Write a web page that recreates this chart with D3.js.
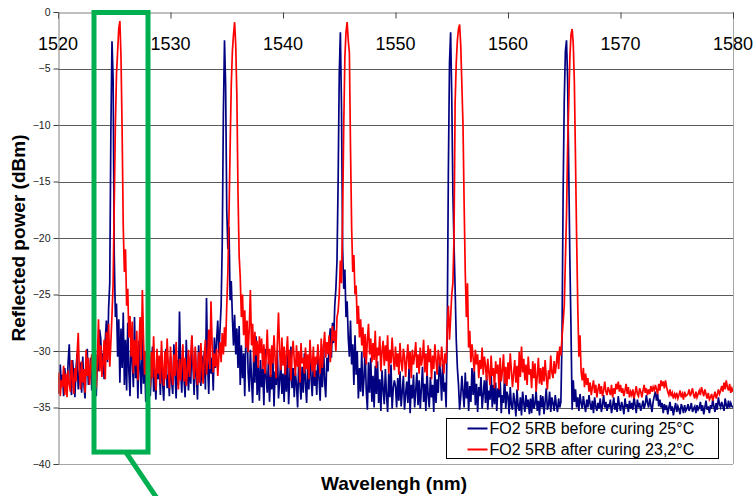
<!DOCTYPE html>
<html>
<head>
<meta charset="utf-8">
<script src="https://cdn.jsdelivr.net/npm/d3@7/dist/d3.min.js"></script>
<style>
  html, body { margin: 0; padding: 0; background: #fff; }
  svg { display: block; font-family: Arial, "Liberation Sans", sans-serif; }
</style>
</head>
<body>
<svg id="chart" width="756" height="496"></svg>
<script>
// Spectrum sampling grid (nm)
const waveStart = 1520;
const waveStep = 0.1;

// Axis ticks
const xTicks = [1520, 1530, 1540, 1550, 1560, 1570, 1580];
const yTicks = [0, -5, -10, -15, -20, -25, -30, -35, -40];

// Series labels
const seriesNames = ["FO2 5RB before curing 25°C", "FO2 5RB after curing 23,2°C"];

// Reflected power (dBm), FO2 5RB before curing at 25°C, one row per nm
const powerBefore = [
-32.5,-33.8,-31.2,-33.0,-32.1,-34.0,-31.5,-32.8,-33.5,-31.0,
-29.4,-32.6,-33.9,-30.8,-32.2,-34.1,-31.6,-30.2,-33.4,-32.0,
-31.0,-33.7,-30.5,-32.9,-34.2,-31.3,-29.8,-33.0,-32.4,-30.6,
-33.5,-31.1,-29.2,-32.7,-34.0,-30.3,-31.8,-28.1,-28.9,-31.4,
-30.2,-32.5,-29.0,-27.3,-31.0,-26.2,-24.0,-10.5,-2.6,-6.0,
-21.5,-27.0,-25.8,-30.5,-27.2,-32.8,-28.0,-31.5,-26.6,-33.0,
-29.0,-33.5,-27.5,-31.8,-34.0,-28.3,-30.7,-33.2,-27.0,-32.4,
-30.0,-34.2,-29.1,-31.5,-33.8,-28.5,-32.9,-30.3,-34.5,-31.2,
-33.0,-30.4,-34.0,-31.7,-29.6,-33.6,-32.0,-34.3,-30.9,-32.5,
-31.4,-33.9,-30.1,-32.8,-34.4,-31.0,-29.8,-33.3,-32.1,-34.0,
-30.5,-32.7,-33.8,-29.4,-31.9,-34.2,-30.8,-33.0,-26.5,-31.6,
-33.7,-30.2,-32.4,-34.1,-29.0,-31.8,-33.5,-30.6,-32.9,-28.7,
-31.3,-33.9,-30.0,-32.2,-34.3,-29.5,-31.7,-33.1,-30.4,-32.6,
-30.1,-33.4,-25.3,-31.2,-33.8,-29.3,-32.0,-30.6,-33.5,-28.8,
-31.5,-29.0,-27.3,-30.2,-28.1,-26.0,-20.5,-9.0,-2.5,-6.5,
-17.5,-21.0,-19.0,-25.5,-23.8,-27.0,-29.5,-26.8,-30.3,-28.0,
-31.5,-27.8,-33.0,-29.5,-32.4,-30.2,-34.0,-28.6,-27.4,-31.9,
-33.6,-29.9,-32.5,-34.6,-30.4,-32.8,-28.7,-33.9,-31.3,-34.4,
-30.8,-33.2,-31.6,-34.8,-29.8,-32.3,-33.7,-31.0,-34.5,-32.1,
-33.4,-30.6,-34.9,-31.8,-33.0,-29.9,-34.2,-32.6,-30.9,-33.8,
-32.0,-34.5,-31.2,-33.6,-30.3,-34.7,-32.4,-29.6,-33.3,-31.5,
-34.1,-31.9,-33.0,-35.0,-30.7,-32.8,-34.3,-31.4,-33.7,-30.2,
-32.9,-34.6,-31.1,-33.4,-29.7,-32.5,-34.0,-30.8,-33.1,-31.7,
-33.9,-30.5,-32.3,-34.4,-31.0,-33.2,-29.4,-32.7,-34.1,-30.6,
-31.8,-29.5,-28.0,-30.6,-27.5,-29.3,-26.0,-24.5,-22.0,-15.0,
-5.5,-1.8,-8.5,-21.0,-24.5,-22.8,-27.0,-25.6,-28.8,-30.5,
-27.3,-31.2,-29.4,-33.0,-28.6,-32.1,-30.0,-34.2,-31.5,-33.6,
-30.1,-34.0,-32.4,-29.8,-33.5,-35.2,-31.0,-33.7,-30.6,-34.5,
-32.2,-35.0,-31.3,-33.8,-30.9,-34.6,-32.5,-35.3,-31.7,-33.4,
-34.7,-31.6,-33.9,-35.4,-32.0,-34.1,-31.2,-35.1,-33.3,-32.6,
-33.1,-35.0,-32.4,-34.4,-31.8,-34.9,-33.6,-32.2,-35.2,-33.8,
-32.7,-34.6,-31.5,-35.5,-33.0,-34.2,-32.1,-35.0,-33.5,-31.9,
-34.8,-32.6,-35.1,-33.3,-31.4,-34.5,-32.9,-35.3,-31.7,-33.9,
-35.0,-32.3,-34.1,-33.0,-35.4,-31.8,-34.6,-32.5,-33.7,-30.9,
-32.0,-34.4,-31.1,-33.6,-32.8,-35.0,-28.0,-14.0,-4.5,-1.8,
-7.5,-16.0,-20.5,-24.5,-29.0,-31.5,-33.0,-35.2,-34.0,-32.2,
-33.6,-35.0,-31.9,-34.2,-32.7,-35.3,-33.1,-34.5,-31.5,-33.9,
-31.7,-34.8,-32.9,-35.4,-33.2,-34.0,-32.3,-35.1,-33.8,-32.6,
-34.6,-32.1,-35.2,-33.5,-34.3,-31.9,-35.0,-33.0,-34.7,-32.8,
-35.3,-33.3,-34.1,-32.4,-35.5,-33.9,-34.6,-32.0,-35.1,-33.6,
-34.0,-35.6,-33.2,-34.8,-35.2,-33.7,-34.5,-35.8,-33.4,-34.9,
-35.3,-34.1,-35.7,-33.6,-34.6,-35.4,-33.9,-35.0,-34.3,-35.6,
-34.2,-35.5,-33.8,-35.1,-34.7,-33.5,-35.3,-34.4,-35.7,-33.9,
-35.0,-34.0,-35.6,-34.5,-33.3,-35.2,-34.8,-33.6,-35.4,-34.1,
-34.6,-35.3,-33.9,-34.8,-35.4,-34.2,-35.0,-34.5,-29.0,-16.0,
-7.8,-3.5,-2.5,-6.0,-14.0,-22.0,-28.0,-35.2,-32.6,-34.5,
-33.4,-35.0,-34.1,-35.3,-33.8,-34.6,-35.1,-34.0,-34.8,-35.4,
-34.3,-35.0,-33.9,-34.7,-35.2,-34.4,-35.5,-34.1,-34.9,-35.3,
-34.6,-35.1,-34.2,-35.4,-34.8,-33.9,-35.0,-34.5,-35.3,-34.7,
-35.0,-34.3,-35.5,-34.9,-34.1,-35.2,-34.6,-35.4,-34.0,-34.8,
-35.3,-34.5,-34.9,-35.6,-34.2,-35.0,-34.7,-35.4,-34.4,-35.1,
-34.6,-35.2,-34.0,-34.8,-35.5,-34.3,-35.0,-34.6,-35.3,-34.9,
-34.4,-35.1,-34.7,-33.9,-34.6,-35.0,-34.2,-34.8,-35.4,-34.5,
-34.0,-33.6,-34.4,-33.8,-34.9,-34.3,-35.0,-34.6,-35.5,-34.7,
-35.2,-34.8,-35.6,-35.0,-34.5,-35.3,-34.9,-35.7,-35.1,-34.6,
-35.4,-34.9,-35.2,-35.6,-34.7,-35.0,-35.5,-34.8,-35.3,-35.1,
-34.7,-35.3,-35.0,-34.6,-35.4,-35.1,-34.9,-35.5,-34.8,-35.2,
-35.0,-34.5,-35.3,-34.8,-35.6,-35.0,-34.4,-35.2,-34.9,-35.5,
-34.8,-35.1,-34.3,-34.9,-35.4,-34.6,-35.2,-34.1,-34.7,-35.0,
-34.5,-34.9,-35.3,-34.2,-34.8,-35.1,-34.4,-35.0,-34.6,-34.9,
-35.0
];

// Reflected power (dBm), FO2 5RB after curing at 23.2°C, one row per nm
const powerAfter = [
-33.8,-31.9,-34.0,-32.6,-33.2,-31.3,-33.9,-32.0,-34.1,-31.7,
-32.9,-33.6,-30.8,-32.4,-33.8,-31.5,-32.7,-30.2,-28.4,-31.9,
-33.4,-30.9,-32.8,-31.6,-33.7,-29.9,-32.2,-30.6,-33.0,-31.4,
-30.3,-32.9,-31.1,-29.6,-33.3,-30.7,-27.2,-31.8,-29.5,-32.3,
-31.2,-29.0,-32.5,-28.3,-30.8,-27.6,-31.4,-29.2,-26.8,-24.0,
-17.0,-10.0,-5.5,-3.5,-1.5,-0.8,-4.0,-10.5,-19.0,-23.0,
-21.0,-26.0,-24.5,-28.8,-26.9,-30.5,-27.4,-32.0,-29.0,-31.3,
-28.2,-32.6,-29.5,-27.0,-30.8,-24.6,-28.9,-32.1,-30.0,-33.0,
-31.5,-29.3,-33.2,-30.1,-32.4,-28.7,-31.8,-33.5,-29.8,-32.0,
-30.4,-32.9,-29.1,-31.6,-33.1,-30.0,-32.5,-28.9,-31.2,-33.3,
-29.6,-31.9,-33.0,-30.3,-32.2,-29.2,-31.5,-33.4,-30.7,-32.6,
-31.0,-29.4,-32.7,-30.6,-33.1,-31.8,-29.9,-32.3,-30.4,-28.6,
-30.9,-32.5,-29.6,-31.7,-33.0,-30.1,-32.8,-29.3,-31.4,-32.9,
-30.5,-29.0,-32.1,-30.8,-28.1,-31.6,-25.6,-29.4,-31.9,-30.2,
-31.4,-29.8,-32.2,-30.5,-29.2,-31.0,-28.4,-30.3,-27.9,-29.6,
-26.0,-23.0,-18.0,-12.0,-6.5,-3.5,-2.0,-0.9,-3.0,-7.5,
-16.0,-21.5,-23.5,-27.0,-25.0,-28.6,-26.4,-29.7,-27.3,-30.1,
-28.0,-24.6,-29.5,-27.6,-31.0,-28.3,-30.4,-29.1,-31.5,-28.7,
-30.2,-28.9,-31.6,-29.4,-32.0,-30.6,-28.1,-31.2,-29.8,-32.3,
-29.5,-31.1,-28.6,-30.7,-32.4,-29.2,-26.6,-30.0,-31.7,-28.8,
-31.3,-29.6,-32.1,-30.2,-28.7,-31.5,-29.9,-32.6,-30.4,-29.1,
-30.8,-32.2,-29.5,-31.4,-30.0,-32.8,-29.3,-31.1,-30.6,-32.0,
-29.7,-31.6,-30.3,-32.5,-29.0,-30.9,-31.8,-29.6,-32.3,-30.5,
-31.2,-29.4,-30.8,-32.0,-28.9,-31.5,-29.8,-28.3,-30.6,-29.2,
-30.3,-28.6,-31.0,-29.5,-27.8,-29.1,-28.2,-30.0,-27.0,-26.5,
-25.0,-22.0,-24.0,-18.0,-10.0,-4.0,-1.8,-0.9,-2.5,-3.6,
-12.0,-19.0,-23.0,-21.5,-25.0,-24.2,-27.6,-26.0,-28.8,-27.2,
-29.5,-27.9,-30.6,-28.5,-31.2,-29.0,-27.6,-30.3,-28.9,-31.0,
-29.3,-30.8,-28.2,-31.5,-29.7,-30.4,-28.7,-31.8,-30.0,-29.1,
-31.3,-29.5,-30.9,-28.6,-32.0,-29.9,-31.1,-28.8,-30.6,-31.7,
-29.6,-31.4,-30.2,-32.1,-29.3,-30.9,-31.8,-29.8,-30.5,-32.3,
-30.7,-29.4,-31.6,-30.1,-32.4,-29.9,-31.2,-30.4,-29.2,-31.5,
-30.3,-32.0,-29.7,-31.3,-30.6,-29.0,-31.9,-30.2,-32.2,-29.5,
-31.0,-29.8,-32.5,-30.4,-31.6,-29.4,-30.8,-32.1,-29.9,-30.7,
-31.4,-29.6,-30.8,-32.0,-30.2,-31.1,-28.0,-26.0,-29.0,-27.0,
-25.0,-24.0,-20.0,-8.0,-4.5,-2.5,-1.5,-1.1,-3.0,-6.5,
-10.0,-17.0,-23.0,-27.0,-24.0,-29.7,-28.2,-31.0,-29.4,-30.6,
-31.8,-29.9,-31.2,-30.3,-32.4,-30.8,-31.6,-29.7,-32.1,-30.5,
-31.3,-32.6,-30.7,-31.9,-33.0,-30.4,-32.2,-31.5,-33.3,-30.9,
-32.0,-31.2,-33.4,-30.6,-32.7,-31.8,-30.3,-32.9,-31.4,-33.1,
-31.0,-32.5,-30.2,-31.7,-33.2,-32.0,-30.8,-32.8,-31.3,-33.5,
-30.1,-32.3,-29.6,-31.9,-30.7,-32.6,-31.2,-33.0,-30.5,-32.1,
-31.6,-33.3,-30.9,-32.4,-31.1,-33.6,-32.2,-30.6,-32.9,-31.5,
-33.0,-31.4,-32.7,-30.8,-32.3,-33.4,-31.7,-32.5,-30.4,-31.9,
-32.4,-30.9,-32.0,-31.1,-30.0,-31.6,-29.6,-30.4,-28.8,-27.5,
-26.0,-22.0,-18.0,-12.0,-8.0,-4.0,-2.0,-1.5,-2.8,-6.3,
-13.0,-20.0,-26.0,-30.5,-28.6,-31.8,-32.6,-31.5,-33.2,-32.0,
-33.0,-32.4,-33.6,-32.8,-33.9,-33.2,-32.6,-33.7,-33.0,-34.1,
-33.4,-32.9,-33.8,-33.1,-34.0,-33.5,-32.7,-33.6,-33.9,-33.2,
-33.5,-33.9,-33.0,-34.1,-33.3,-33.8,-32.9,-33.4,-32.7,-33.6,
-33.0,-33.7,-33.3,-34.0,-33.5,-32.9,-33.8,-33.2,-34.1,-33.6,
-33.9,-33.4,-34.2,-33.7,-33.1,-33.8,-34.0,-33.3,-33.6,-34.1,
-33.5,-33.0,-33.7,-33.3,-33.9,-33.4,-33.8,-33.1,-33.6,-33.2,
-33.5,-33.0,-33.4,-33.8,-32.9,-33.5,-32.6,-33.1,-32.7,-33.3,
-32.6,-33.2,-33.6,-33.9,-33.4,-34.0,-33.7,-34.2,-33.8,-34.1,
-33.7,-34.2,-33.9,-33.5,-34.1,-33.8,-34.3,-33.6,-34.0,-33.9,
-33.8,-33.4,-34.0,-33.7,-33.3,-33.9,-34.2,-33.6,-34.1,-33.8,
-33.5,-33.9,-33.2,-33.6,-34.0,-33.4,-33.8,-34.2,-33.7,-34.3,
-34.1,-33.8,-34.4,-34.0,-33.6,-34.2,-33.9,-33.4,-33.8,-33.5,
-33.1,-33.6,-32.8,-33.4,-32.6,-33.2,-33.5,-32.9,-33.7,-33.3,
-33.6
];

const seriesColors = ["#000080", "#ff0000"];

const svg = d3.select("#chart");
const margin = { left: 58, right: 23, top: 12, bottom: 32 };
const W = 756, H = 496;
const x = d3.scaleLinear().domain([1520, 1580]).range([margin.left, W - margin.right]);
const y = d3.scaleLinear().domain([-40, 0]).range([H - margin.bottom, margin.top]);

svg.append("rect").attr("width", W).attr("height", H).attr("fill", "#fff");

// Horizontal gridlines
svg.append("g")
  .selectAll("line")
  .data(yTicks.filter(d => d !== 0 && d !== -40))
  .join("line")
  .attr("x1", x(1520)).attr("x2", x(1580))
  .attr("y1", d => Math.round(y(d)) + 0.5).attr("y2", d => Math.round(y(d)) + 0.5)
  .attr("stroke", "#5a5a5a").attr("stroke-width", 1);

// Plot frame: right and bottom edges
svg.append("line")
  .attr("x1", x(1580) + 0.5).attr("x2", x(1580) + 0.5)
  .attr("y1", y(0)).attr("y2", y(-40))
  .attr("stroke", "#a6a6a6");
svg.append("line")
  .attr("x1", x(1520)).attr("x2", x(1580))
  .attr("y1", Math.round(y(-40)) + 0.5).attr("y2", Math.round(y(-40)) + 0.5)
  .attr("stroke", "#a6a6a6");

// Spectra
svg.append("clipPath").attr("id", "plotClip")
  .append("rect")
  .attr("x", x(1520)).attr("y", y(0))
  .attr("width", x(1580) - x(1520)).attr("height", y(-40) - y(0));

const line = d3.line()
  .x((d, i) => x(waveStart + i * waveStep))
  .y(d => y(d));

const traces = svg.append("g").attr("clip-path", "url(#plotClip)");
[powerBefore, powerAfter].forEach((series, k) => {
  traces.append("path")
    .datum(series)
    .attr("d", line)
    .attr("fill", "none")
    .attr("stroke", seriesColors[k])
    .attr("stroke-width", 1.7)
    .attr("stroke-linejoin", "miter");
});

// Wavelength axis along the top edge, labels drawn inside the plot
const xAxis = svg.append("g")
  .attr("transform", `translate(0,${Math.round(y(0)) + 0.5})`)
  .call(d3.axisBottom(x).tickValues(xTicks).tickSize(6).tickFormat(""));
xAxis.select(".domain").attr("stroke", "#808080");
xAxis.selectAll(".tick line").attr("stroke", "#404040");

svg.append("g")
  .selectAll("text")
  .data(xTicks)
  .join("text")
  .attr("x", d => x(d))
  .attr("y", 50)
  .attr("text-anchor", "middle")
  .attr("font-size", 18)
  .attr("fill", "#000")
  .text(d => d);

// Power axis on the left
const yAxis = svg.append("g")
  .attr("transform", `translate(${x(1520) + 0.5},0)`)
  .call(d3.axisLeft(y).tickValues(yTicks).tickSize(5).tickPadding(3));
yAxis.select(".domain").attr("stroke", "#808080");
yAxis.selectAll(".tick line").attr("stroke", "#404040");
yAxis.selectAll(".tick text")
  .attr("font-size", 10.5)
  .attr("font-family", "Arial, 'Liberation Sans', sans-serif")
  .attr("fill", "#222");

// Axis titles
svg.append("text")
  .attr("transform", `translate(25,${(y(0) + y(-40)) / 2}) rotate(-90)`)
  .attr("text-anchor", "middle")
  .attr("font-size", 19)
  .attr("font-weight", "bold")
  .text("Reflected power (dBm)");

svg.append("text")
  .attr("x", 394)
  .attr("y", 490)
  .attr("text-anchor", "middle")
  .attr("font-size", 19)
  .attr("font-weight", "bold")
  .text("Wavelengh (nm)");

// Highlight frame around the first grating and its pointer
const hl = svg.append("g").attr("stroke", "#00b050").attr("fill", "none").attr("stroke-width", 5);
hl.append("rect")
  .attr("x", x(1523.2)).attr("y", y(0) + 0.5)
  .attr("width", x(1528.0) - x(1523.2)).attr("height", y(-38.9) - y(0));
hl.append("line")
  .attr("x1", x(1526.0)).attr("y1", y(-38.9))
  .attr("x2", x(1528.9)).attr("y2", H + 4);

// Legend
const lg = svg.append("g").attr("transform", "translate(446.5,418.5)");
lg.append("rect").attr("width", 272).attr("height", 40)
  .attr("fill", "#fff").attr("stroke", "#000").attr("stroke-width", 1);
seriesNames.forEach((name, k) => {
  const cy = 10 + k * 21;
  lg.append("line").attr("x1", 21).attr("x2", 41).attr("y1", cy).attr("y2", cy)
    .attr("stroke", seriesColors[k]).attr("stroke-width", 2);
  lg.append("text").attr("x", 43).attr("y", cy + 5.5)
    .attr("font-size", 16).attr("fill", "#000").text(name);
});
</script>
</body>
</html>
